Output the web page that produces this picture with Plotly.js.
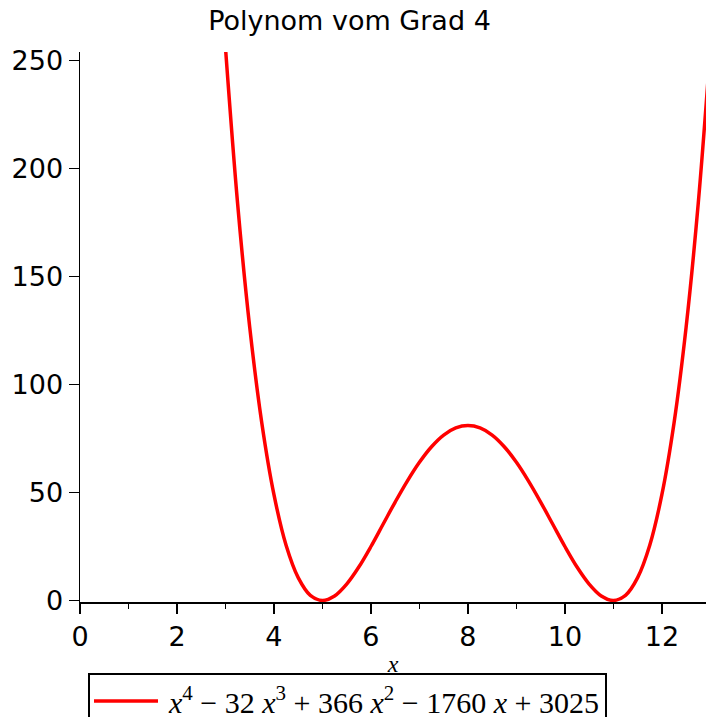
<!DOCTYPE html>
<html>
<head>
<meta charset="utf-8">
<script src="https://cdn.plot.ly/plotly-3.0.1.min.js"></script>
<style>html,body{margin:0;padding:0;background:#fff;}#chart{width:706px;height:717px;}</style>
</head>
<body>
<div id="chart"></div>
<script>
// Points
const xValues = [3, 3.25, 3.5, 3.75, 4, 4.25, 4.5, 4.75, 5, 5.25, 5.5, 5.75, 6, 6.25, 6.5, 6.75, 7, 7.25, 7.5, 7.75, 8,
                 8.25, 8.5, 8.75, 9, 9.25, 9.5, 9.75, 10, 10.25, 10.5, 10.75, 11, 11.25, 11.5, 11.75, 12, 12.25, 12.5, 12.75, 13];
const yValues = [256, 183.9, 126.6, 82.1, 49, 25.6, 10.6, 2.4, 0, 2.1, 7.6, 15.5, 25, 35.3, 45.6, 55.3, 64, 71.2, 76.6, 79.9, 81,
                 79.9, 76.6, 71.2, 64, 55.3, 45.6, 35.3, 25, 15.5, 7.6, 2.1, 0, 2.4, 10.6, 25.6, 49, 82.1, 126.6, 183.9, 256];
const seriesName = '<i>x</i><sup>4</sup> \u2212 32 <i>x</i><sup>3</sup> + 366 <i>x</i><sup>2</sup> \u2212 1760 <i>x</i> + 3025';
const yTicks = [0, 50, 100, 150, 200, 250];
const xTicks = [0, 2, 4, 6, 8, 10, 12];
const chartTitle = 'Polynom vom Grad 4';
const xLabel = 'x';

const trace = {
  x: xValues, y: yValues, type: 'scatter', mode: 'lines', name: seriesName,
  line: {color: '#ff0000', width: 3.5, shape: 'spline'}, showlegend: true
};

const layout = {
  width: 706, height: 717,
  margin: {l: 80, r: 0, t: 52, b: 115, autoexpand: false},
  paper_bgcolor: '#fff', plot_bgcolor: '#fff',
  font: {family: 'DejaVu Sans', size: 26, color: '#000'},
  title: {text: chartTitle, font: {family: 'DejaVu Sans', size: 27, color: '#000'},
          xref: 'container', x: 0.495, xanchor: 'center', yref: 'container', y: 1 - 11/717, yanchor: 'top'},
  xaxis: {
    range: [0, 12.91], tickvals: xTicks, ticktext: xTicks.map(String),
    showgrid: false, zeroline: false, showline: true, linecolor: '#000', linewidth: 1.5,
    ticks: 'outside', ticklen: 10, tickwidth: 1.5, tickcolor: '#000',
    minor: {dtick: 1, tick0: 0, ticks: 'outside', ticklen: 5, tickwidth: 1.5, tickcolor: '#000', showgrid: false},
    tickfont: {family: 'DejaVu Sans', size: 27, color: '#000'},
    title: {text: '<i>' + xLabel + '</i>', font: {family: 'Liberation Serif', size: 24, color: '#000'}, standoff: 4}
  },
  yaxis: {
    range: [-0.7, 254], tickvals: yTicks, ticktext: yTicks.map(String),
    showgrid: false, zeroline: false, showline: true, linecolor: '#000', linewidth: 1.5,
    ticks: 'outside', ticklen: 10, tickwidth: 1.5, tickcolor: '#000',
    tickfont: {family: 'DejaVu Sans', size: 27, color: '#000'}
  },
  showlegend: true,
  legend: {
    x: 8/626, xanchor: 'left', y: (602 - 673)/550, yanchor: 'top',
    bordercolor: '#000', borderwidth: 2, bgcolor: '#fff',
    itemwidth: 69,
    font: {family: 'Liberation Serif', size: 30, color: '#000'}
  }
};

Plotly.newPlot('chart', [trace], layout, {displayModeBar: false, staticPlot: true}).then(function () {
  // lengthen the legend's line sample to match the reference
  document.querySelectorAll('.legend .legendlines path').forEach(function (p) {
    p.setAttribute('d', 'M4,0h64');
  });
});
</script>
</body>
</html>
